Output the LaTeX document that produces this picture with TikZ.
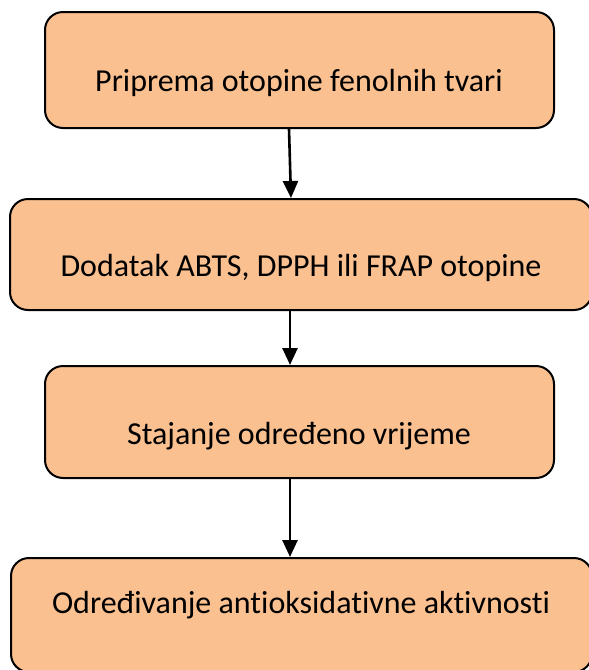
\documentclass[tikz,border=0pt]{standalone}
\usepackage{fontspec}
\setmainfont{Carlito}[Ligatures=NoCommon]
\usetikzlibrary{arrows.meta}
\definecolor{boxfill}{HTML}{FAC090}

\begin{document}
\begin{tikzpicture}[x=1pt,y=-1pt,
        stepbox/.style={draw, line width=2pt, rounded corners=18pt, fill=boxfill, inner sep=0pt},
        boxtext/.style={font=\fontsize{32}{36}\selectfont},
        arr/.style={line width=2.6pt, -{Triangle[length=17pt,width=15pt]}}]
        \useasboundingbox (0,0) rectangle (589,670);
        \node[stepbox, minimum width=509pt, minimum height=116pt] (b1) at (299.5,70) {};
        \node[boxtext] (t1) at (299,83) {Priprema otopine fenolnih tvari};
        \node[stepbox, minimum width=582pt, minimum height=111pt] (b2) at (301,254.5) {};
        \node[boxtext] (t2) at (301,268) {Dodatak ABTS, DPPH ili FRAP otopine};
        \node[stepbox, minimum width=509pt, minimum height=112pt] (b3) at (299.5,422) {};
        \node[boxtext] (t3) at (299,436) {Stajanje određeno vrijeme};
        \node[stepbox, minimum width=581pt, minimum height=114pt] (b4) at (301.5,615) {};
        \node[boxtext] (t4) at (301,605) {Određivanje antioksidativne aktivnosti};
        % connectors
        \draw[arr] (b1.south -| 289,0) -- (b2.north -| 291,0);
        \draw[arr] (b2.south -| 290,0) -- (b3.north -| 290,0);
        \draw[arr] (b3.south -| 290,0) -- (b4.north -| 290,0);
    \end{tikzpicture}
\end{document}
